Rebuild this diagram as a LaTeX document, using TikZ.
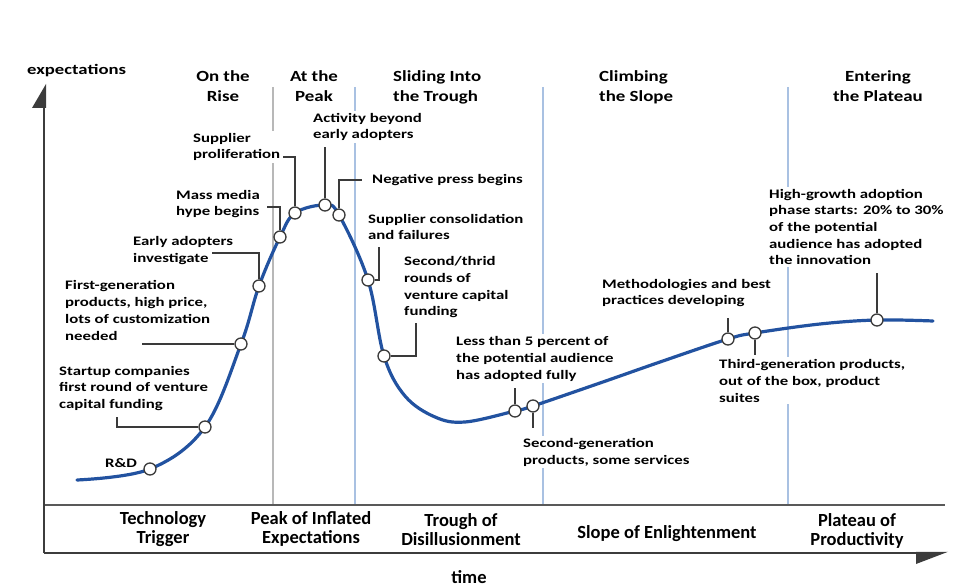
\documentclass[tikz,border=0pt]{standalone}
\usepackage{fontspec}
\setmainfont{Carlito}
\newfontfamily\notefont{Carlito}[FakeStretch=1.29]
\newfontfamily\phasefont{Carlito}[FakeStretch=1.22]
\usetikzlibrary{positioning}
\definecolor{curveblue}{HTML}{2252A0}
\definecolor{phasegray}{HTML}{B8B8B8}
\definecolor{phaseblue}{HTML}{A9C1E2}
\definecolor{leadergray}{HTML}{3A3A3A}
\definecolor{axisgray}{HTML}{3C3C3C}
\tikzset{
  dot/.style={circle, draw=leadergray, line width=1.3pt, fill=white,
    minimum size=12pt, inner sep=0pt},
  note/.style={anchor=base west, align=left, fill=white, inner sep=2pt,
    font=\notefont\bfseries\fontsize{13}{16.7}\selectfont},
  phase/.style={anchor=base, align=center, inner sep=0pt,
    font=\phasefont\bfseries\fontsize{15.5}{20}\selectfont},
  stage/.style={anchor=base, align=center, inner sep=0pt,
    font=\bfseries\fontsize{18.5}{19}\selectfont},
  leader/.style={draw=leadergray, line width=1.6pt},
  divider/.style={line width=1.5pt},
  hype/.style={draw=curveblue, line width=3.2pt, line cap=round},
  axis/.style={draw=axisgray, line width=2.5pt},
}
\begin{document}
\begin{tikzpicture}[x=1pt,y=-1pt]
  \useasboundingbox (0,0) rectangle (975,588);
  \draw[divider,phasegray] (273,87)--(273,505);
  \draw[divider,phaseblue] (355,87)--(355,505);
  \draw[divider,phaseblue] (543,87)--(543,505);
  \draw[divider,phaseblue] (788,87)--(788,505);
  \draw[axis,draw=axisgray!85] (44,505)--(945,505);
  \draw[axis] (44,553)--(44,106);
  \fill[axisgray] (46,84)--(32,108)--(46,108)--cycle;
  \draw[axis] (44,553)--(930,553);
  \fill[axisgray] (916,551.8)--(948,551.8)--(916,564)--cycle;
  \node[anchor=base west,inner sep=0pt,font=\notefont\bfseries\fontsize{14.5}{16}\selectfont] (ylabel) at (27,75) {expectations};
  \node[stage] (xlabel) at (469,583) {time};
  \node[phase] (rise) at (223,102) {On the\\Rise};
  \node[phase] (peak) at (314,102) {At the\\Peak};
  \node[phase,align=left,anchor=base west] (sliding) at (393,102) {Sliding Into\\the Trough};
  \node[phase,align=left,anchor=base west] (climbing) at (599,102) {Climbing\\the Slope};
  \node[phase] (entering) at (878,102) {Entering\\the Plateau};
  \node[stage] (trigger) at (163,543) {Technology\\Trigger};
  \node[stage] (inflated) at (311,543) {Peak of Inflated\\Expectations};
  \node[stage] (trough) at (461,545) {Trough of\\Disillusionment};
  \node[stage] (slope) at (667,538) {Slope of Enlightenment};
  \node[stage] (plateau) at (857,545) {Plateau of\\Productivity};
  \node[note] (l-rd) at (103,467) {R\&D};
  \node[note] (l-startup) at (57,408.4) {Startup companies\\first round of venture\\capital funding};
  \node[note] (l-firstgen) at (63,340) {First-generation\\products, high price,\\lots of customization\\needed};
  \node[note] (l-early) at (131,262) {Early adopters\\investigate};
  \node[note] (l-media) at (174,216) {Mass media\\hype begins};
  \node[note] (l-prolif) at (191,159) {Supplier\\proliferation};
  \node[note] (l-activity) at (311,139) {Activity beyond\\early adopters};
  \node[note] (l-negpress) at (370,184) {Negative press begins};
  \node[note] (l-consol) at (366,240) {Supplier consolidation\\and failures};
  \node[note] (l-rounds) at (402,316) {Second/thrid\\rounds of\\venture capital\\funding};
  \node[note] (l-lessfive) at (454,379) {Less than 5 percent of\\the potential audience\\has adopted fully};
  \node[note] (l-secondgen) at (521,464) {Second-generation\\products, some services};
  \node[note] (l-method) at (600,305) {Methodologies and best\\practices developing};
  \node[note] (l-thirdgen) at (717,402) {Third-generation products,\\out of the box, product\\suites};
  \node[note] (l-highgrowth) at (767,265) {High-growth adoption\\phase starts: 20\% to 30\%\\of the potential\\audience has adopted\\the innovation};
  \draw[hype] plot[smooth,tension=0.6] coordinates {(77,480) (150,469) (205,427) (241,344) (259,286) (280,237) (295,213) (325,205) (339,215) (368,280) (384,356) (405,396) (435,417) (465,422) (515,411) (533,406) (600,383) (660,362) (728,339) (755,333) (820,324) (877,320) (933,321)};
  \node[dot] (rd) at (150,469) {};
  \node[dot] (startup) at (205,427) {};
  \node[dot] (firstgen) at (241,344) {};
  \node[dot] (early) at (259,286) {};
  \node[dot] (media) at (280,237) {};
  \node[dot] (prolif) at (295,213) {};
  \node[dot] (activity) at (325,205) {};
  \node[dot] (negpress) at (339,215) {};
  \node[dot] (consol) at (368,280) {};
  \node[dot] (rounds) at (384,356) {};
  \node[dot] (lessfive) at (515,411) {};
  \node[dot] (secondgen) at (533,406) {};
  \node[dot] (method) at (728,339) {};
  \node[dot] (thirdgen) at (755,333) {};
  \node[dot] (highgrowth) at (877,320) {};
  \coordinate (startup-end) at (117,417);
  \coordinate (firstgen-end) at (142,344);
  \coordinate (early-end) at (212,253);
  \coordinate (media-end) at (267,207);
  \coordinate (prolif-end) at (283,157);
  \coordinate (activity-end) at (325,147);
  \coordinate (negpress-end) at (362,180);
  \coordinate (consol-end) at (379,247);
  \coordinate (rounds-end) at (416,323);
  \coordinate (lessfive-end) at (515,388);
  \coordinate (secondgen-end) at (533,428);
  \coordinate (method-end) at (728,318);
  \coordinate (thirdgen-end) at (755,355);
  \coordinate (highgrowth-end) at (877,273);
  \draw[leader] (startup.west)-|(startup-end);
  \draw[leader] (firstgen.west)--(firstgen-end);
  \draw[leader] (early.north)|-(early-end);
  \draw[leader] (media.north)|-(media-end);
  \draw[leader] (prolif.north)|-(prolif-end);
  \draw[leader] (activity.north)--(activity-end);
  \draw[leader] (negpress.north)|-(negpress-end);
  \draw[leader] (consol.east)-|(consol-end);
  \draw[leader] (rounds.east)-|(rounds-end);
  \draw[leader] (lessfive.north)--(lessfive-end);
  \draw[leader] (secondgen.south)--(secondgen-end);
  \draw[leader] (method.north)--(method-end);
  \draw[leader] (thirdgen.south)--(thirdgen-end);
  \draw[leader] (highgrowth.north)--(highgrowth-end);
\end{tikzpicture}
\end{document}
